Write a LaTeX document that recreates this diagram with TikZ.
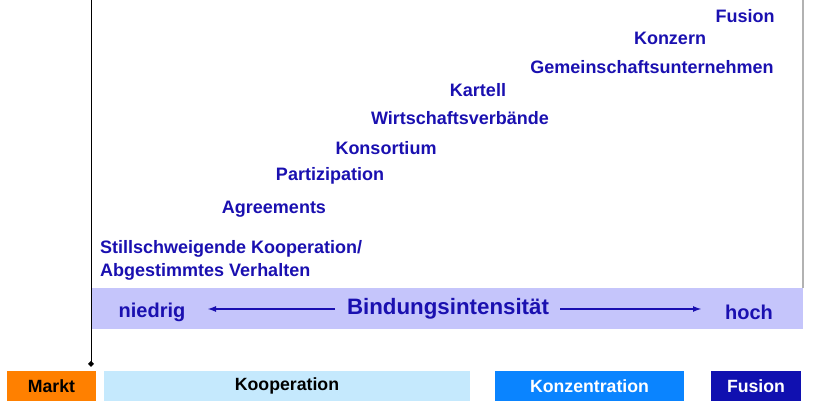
\documentclass[tikz,border=0pt]{standalone}
\usepackage{fontspec}
\setmainfont{Liberation Sans}
\usetikzlibrary{arrows.meta}
\definecolor{tb}{HTML}{1A10B0}
\definecolor{band}{HTML}{C5C5FB}
\definecolor{orng}{HTML}{FF8000}
\definecolor{lblue}{HTML}{C5E9FD}
\definecolor{mblue}{HTML}{0A84FF}
\definecolor{dblue}{HTML}{1010B0}
\begin{document}
\begin{tikzpicture}[x=1pt,y=-1pt,
  item/.style={text=tb,font=\bfseries\fontsize{18}{21}\selectfont,inner sep=0pt},
  box/.style={inner sep=0pt,font=\bfseries\fontsize{17.7}{20}\selectfont},
  arr/.style={draw=tb,line width=2pt,-{Latex[length=9pt,width=6pt]}}]
\useasboundingbox (0,0) rectangle (825,411);
\draw[gray!60,line width=1.5pt] (803,0) -- (803,288);
\fill[band] (92,288) rectangle (803,329);
\coordinate (vt) at (91,0);
\coordinate (vb) at (91,364);
\draw[black,line width=0.8pt] (vt) -- (vb);
\fill (vb) +(0,-3) -- +(3,0) -- +(0,3) -- +(-3,0) -- cycle;
\node[item] (f) at (745,16) {Fusion};
\node[item] (k) at (670,38) {Konzern};
\node[item] (g) at (652,67) {Gemeinschaftsunternehmen};
\node[item] (ka) at (478,90) {Kartell};
\node[item] (w) at (460,118) {Wirtschaftsverbände};
\node[item] (ko) at (386,148) {Konsortium};
\node[item] (p) at (330,176) {Partizipation};
\node[item] (a) at (274,209) {Agreements};
\node[item,anchor=west] (s1) at (100,249) {Stillschweigende Kooperation/};
\node[item,anchor=west] (s2) at (100,272) {Abgestimmtes Verhalten};
\node[item,font=\bfseries\fontsize{20}{22}\selectfont] (n) at (152,312) {niedrig};
\node[item,font=\bfseries\fontsize{22.3}{25}\selectfont] (b) at (448,309) {Bindungsintensität};
\node[item,font=\bfseries\fontsize{20}{22}\selectfont] (h) at (749,312) {hoch};
\coordinate (la) at (335,309); \coordinate (le) at (207,309);
\coordinate (ra) at (560,309); \coordinate (re) at (702,309);
\draw[arr] (la) -- (le);
\draw[arr] (ra) -- (re);
\node[box,fill=orng,minimum width=89pt,minimum height=30pt] (m) at (51.5,386) {Markt};
\node[box,fill=lblue,minimum width=366pt,minimum height=30pt] (kp) at (287,386) {Kooperation};
\node[box,fill=mblue,text=white,minimum width=189pt,minimum height=30pt] (kz) at (589.5,386) {Konzentration};
\node[box,fill=dblue,text=white,minimum width=90pt,minimum height=30pt] (fu) at (756,386) {Fusion};
\end{tikzpicture}
\end{document}
